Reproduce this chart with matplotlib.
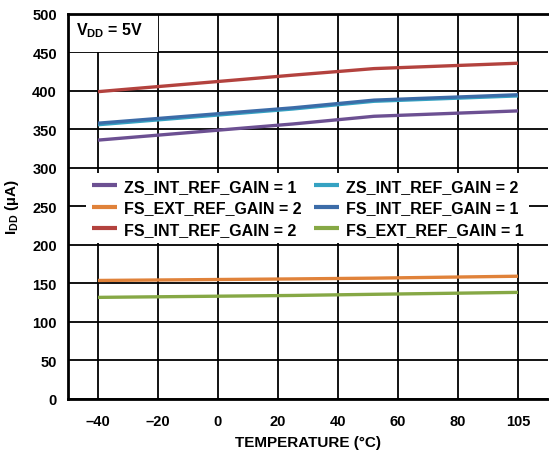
import numpy as np
import matplotlib
matplotlib.use("Agg")
import matplotlib.pyplot as plt
from matplotlib.patches import Rectangle

plt.rcParams['font.family'] = ['Liberation Sans', 'DejaVu Sans']
plt.rcParams['font.weight'] = 'bold'
plt.rcParams['mathtext.default'] = 'bf'
plt.rcParams['mathtext.fontset'] = 'custom'
plt.rcParams['mathtext.bf'] = 'Liberation Sans:bold'
plt.rcParams['mathtext.rm'] = 'Liberation Sans:bold'

# ---- data ----
tick_temps = [-40, -20, 0, 20, 40, 60, 80, 105]
tick_labels = ["\u201340", "\u201320", "0", "20", "40", "60", "80", "105"]
temps = [-40, 25, 52, 105]

zs_int_gain1 = [336, 357, 367, 374]
zs_int_gain2 = [356, 376.5, 386.5, 393.5]
fs_ext_gain2 = [153.5, 155.5, 156.5, 159]
fs_int_gain1 = [358, 378, 388, 395]
fs_int_gain2 = [399, 420.5, 429, 436]
fs_ext_gain1 = [131.5, 134, 135.5, 138]

series = [
    ("ZS_INT_REF_GAIN = 1", zs_int_gain1, "#6c5092"),
    ("FS_EXT_REF_GAIN = 2", fs_ext_gain2, "#e0823a"),
    ("FS_INT_REF_GAIN = 2", fs_int_gain2, "#b3423e"),
    ("ZS_INT_REF_GAIN = 2", zs_int_gain2, "#35a2c2"),
    ("FS_INT_REF_GAIN = 1", fs_int_gain1, "#3c6ca8"),
    ("FS_EXT_REF_GAIN = 1", fs_ext_gain1, "#86a845"),
]

# piecewise-linear temperature scale (ticks equally spaced)
tt = np.array(tick_temps, float)
ti = np.arange(len(tt), dtype=float)

def fwd(x):
    x = np.asarray(x, float)
    y = np.interp(x, tt, ti)
    y = np.where(x < tt[0], (x - tt[0]) / (tt[1] - tt[0]), y)
    y = np.where(x > tt[-1], ti[-1] + (x - tt[-1]) / (tt[-1] - tt[-2]), y)
    return y

def inv(y):
    y = np.asarray(y, float)
    x = np.interp(y, ti, tt)
    x = np.where(y < ti[0], tt[0] + y * (tt[1] - tt[0]), x)
    x = np.where(y > ti[-1], tt[-1] + (y - ti[-1]) * (tt[-1] - tt[-2]), x)
    return x

W, H = 549, 456
fig = plt.figure(figsize=(W / 100, H / 100), dpi=100)
ax = fig.add_axes([68 / W, 1 - 399.5 / H, (548 - 68) / W, (399.5 - 15) / H])
ax.set_xscale('function', functions=(fwd, inv))
ax.set_xlim(float(inv(-0.5)), float(inv(7.5)))
ax.set_ylim(0, 500)

ax.set_axisbelow(True)
ax.grid(True, color='black', linewidth=1.3)
ax.set_xticks(tick_temps)
ax.set_xticklabels(tick_labels)
ax.set_yticks(np.arange(0, 501, 50))
ax.tick_params(length=0, labelsize=10.5)
ax.tick_params(axis='x', pad=11)
ax.tick_params(axis='y', pad=8)
for lab in ax.get_xticklabels() + ax.get_yticklabels():
    lab.set_fontweight('bold')
for s in ax.spines.values():
    s.set_linewidth(2)
    s.set_color('black')
ax.spines['right'].set_visible(False)

for name, vals, col in series:
    ax.plot(temps, vals, color=col, linewidth=2.4, label=name, zorder=3,
            solid_capstyle='butt')

# white area behind the V_DD label (hides grid)
ax.add_patch(Rectangle((0.002, 0.9), (157 - 68) / 480.0, 0.097, transform=ax.transAxes,
                       facecolor='white', edgecolor='none', zorder=1.5))
ax.text((76 - 68) / 480.0, 1 - (31 - 15) / 384.5, "V$_{DD}$ = 5V", transform=ax.transAxes,
        fontsize=11.5, fontweight='bold', va='center', ha='left', zorder=5)

leg = ax.legend(ncol=2, loc='upper left', bbox_to_anchor=(86 / W, 1 - 174 / H),
                bbox_transform=fig.transFigure, borderaxespad=0, borderpad=0.35,
                frameon=True, fancybox=False, framealpha=1, edgecolor='none',
                prop={'weight': 'bold', 'size': 11.5}, handlelength=1.6,
                handletextpad=0.4, columnspacing=0.8, labelspacing=0.42)
leg.get_frame().set_linewidth(0)
for h in leg.legend_handles:
    h.set_linewidth(3)

ax.set_xlabel("TEMPERATURE (\u00b0C)", fontsize=11, fontweight='bold', labelpad=5)
ax.set_ylabel("I$_{DD}$ (\u00b5A)", fontsize=11, fontweight='bold', labelpad=8)

fig.savefig("out.png", dpi=100)
